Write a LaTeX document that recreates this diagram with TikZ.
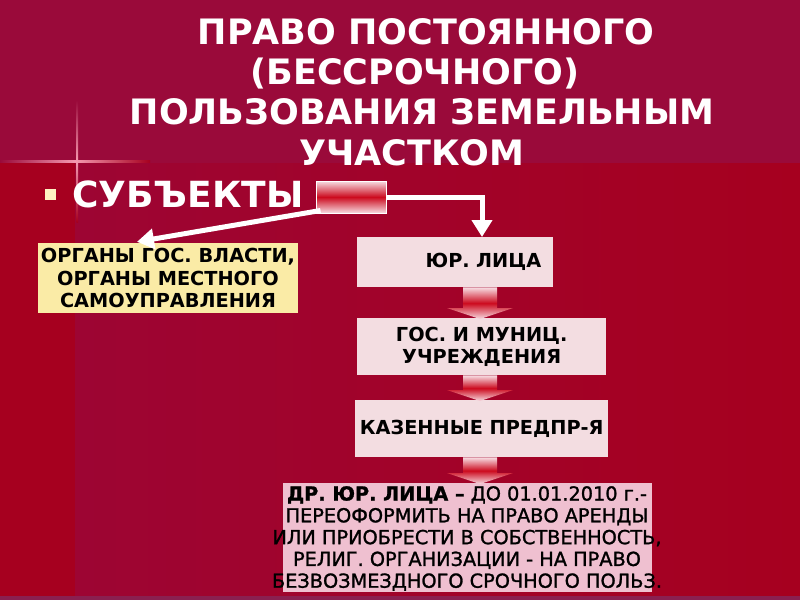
\documentclass[tikz,border=0pt]{standalone}
\usepackage{fontspec}
\setmainfont{DejaVu Sans}
\newfontfamily\medfont{DejaVu Sans}[FakeBold=1.3]
\usetikzlibrary{arrows.meta,calc}
\definecolor{bgtop}{HTML}{9A0A3A}
\definecolor{bgred}{HTML}{A6001F}
\definecolor{bgmid}{HTML}{9D0533}
\definecolor{bgbottom}{HTML}{8A2050}
\definecolor{boxpink}{HTML}{F3DDE1}
\definecolor{boxyellow}{HTML}{FAEBA6}
\definecolor{hlpink}{HTML}{EFC0D0}
\definecolor{arrlight}{HTML}{F7DCE2}
\definecolor{arrred}{HTML}{CC0A1E}
\definecolor{bulletc}{HTML}{FFF2C2}
\definecolor{sparkc}{HTML}{F59AB0}
\newcommand{\blockarr}[2]{%
  \shade[top color=arrlight, bottom color=arrlight, middle color=arrred]
    let \p1=(#1.south), \p2=(#2.north) in
    (463pt,\y1) -- (497pt,\y1) -- (497pt,\y2+10pt) -- (513pt,\y2+10pt)
    -- (480pt,\y2-1pt) -- (447pt,\y2+10pt) -- (463pt,\y2+10pt) -- cycle;}
\begin{document}
\begin{tikzpicture}[x=1pt,y=-1pt,
  titlefont/.style={font=\bfseries\fontsize{35}{40}\selectfont, inner sep=0pt, anchor=base, text=white},
  boxtext/.style={font=\bfseries\fontsize{19.3}{22.5}\selectfont, text=black, align=center},
  pinkbox/.style={fill=boxpink, inner sep=0pt, anchor=north west, boxtext},
  conn/.style={draw=white, line width=5pt, -{Triangle[width=20pt,length=17pt]}}]
\useasboundingbox (0,0) rectangle (800,600);
% background
\fill[bgtop] (0,0) rectangle (800,600);
\fill[bgred] (0,163) rectangle (75,596);
\shade[left color=bgmid, right color=bgred] (75,163) rectangle (800,596);
\fill[bgbottom] (0,596) rectangle (800,600);
% sparkle
\shade[left color=bgtop, right color=bgred, middle color=sparkc] (0,160) rectangle (150,162.5);
\shade[top color=bgtop, bottom color=bgred, middle color=sparkc] (76.5,100) rectangle (78,222);
% title
\node[titlefont] (ta) at (426,44) {ПРАВО ПОСТОЯННОГО};
\node[titlefont] (tb) at (415,84) {(БЕССРОЧНОГО)};
\node[titlefont] (tc) at (422,124) {ПОЛЬЗОВАНИЯ ЗЕМЕЛЬНЫМ};
\node[titlefont] (td) at (412,165) {УЧАСТКОМ};
% bullet and subject
\node[fill=bulletc, minimum size=11pt, inner sep=0pt] (bul) at (50,194) {};
\node[font=\bfseries\fontsize{36}{40}\selectfont, text=white, inner sep=0pt, anchor=base west] (subj) at (72,207) {СУБЪЕКТЫ};
% source shape
\node[draw=white, line width=1pt, top color=arrlight, bottom color=arrlight, middle color=arrred,
      minimum width=70pt, minimum height=32pt, inner sep=0pt] (src) at (351,197) {};
% boxes
\node[fill=boxyellow, boxtext, inner sep=0pt, minimum width=260pt, minimum height=70pt] (org) at (168,278)
  {ОРГАНЫ ГОС. ВЛАСТИ,\\ОРГАНЫ МЕСТНОГО\\САМОУПРАВЛЕНИЯ};
\node[pinkbox, minimum width=196pt, minimum height=50pt, text width=172pt, inner xsep=12pt, align=right] (b1) at (357,237) {ЮР. ЛИЦА};
\node[pinkbox, minimum width=249pt, minimum height=57pt] (b2) at (357,318) {ГОС. И МУНИЦ.\\УЧРЕЖДЕНИЯ};
\node[pinkbox, minimum width=253pt, minimum height=57pt] (b3) at (355,400) {КАЗЕННЫЕ ПРЕДПР-Я};
\node[fill=hlpink, minimum width=369pt, minimum height=109pt, inner sep=0pt, anchor=north west] (b4) at (283,483) {};
\node[font=\medfont\fontsize{19.3}{21.8}\selectfont, text=black, align=center, inner sep=0pt, anchor=north] (b4t) at (467,486)
  {{\bfseries ДР. ЮР. ЛИЦА –} ДО 01.01.2010 г.-\\ПЕРЕОФОРМИТЬ НА ПРАВО АРЕНДЫ\\ИЛИ ПРИОБРЕСТИ В СОБСТВЕННОСТЬ,\\РЕЛИГ. ОРГАНИЗАЦИИ - НА ПРАВО\\БЕЗВОЗМЕЗДНОГО СРОЧНОГО ПОЛЬЗ.};
% block arrows
\blockarr{b1}{b2}
\blockarr{b2}{b3}
\blockarr{b3}{b4}
% connectors
\coordinate (j1) at (482,0);
\coordinate (j2) at (137,0);
\draw[conn] (src.east) -| (b1.north -| j1);
\draw[conn] ($(src.south west)+(5,-3)$) -- ($(org.north -| j2)+(0,-1)$);
\end{tikzpicture}
\end{document}
